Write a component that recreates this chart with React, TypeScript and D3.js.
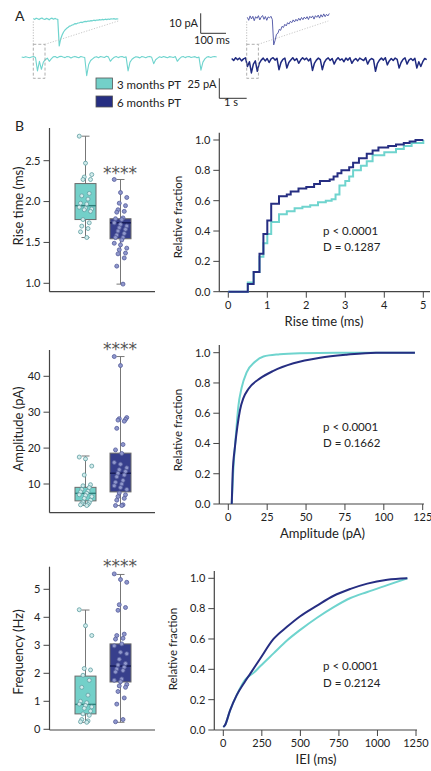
import React from 'react';
import * as d3 from 'd3';

// colours
const CYAN = '#6fd4ce';
const NAVY = '#262e82';
const FONT = "Lato, 'Noto Sans', sans-serif";

// ---- panel A traces (pA, baseline 0) ----
const traceLong3 = [0.5, -0.3, 0.8, 0, -0.6, 0.4, 1, -0.2, -17, -5, -15, -6, -3, -1, -5, -2, 0.5, 1, -0.5, 0.8,
  1.2, 0.3, -0.4, 1, 0.6, -0.8, 0.4, 1.1, 0.2, -0.6, 0.9, 0.3, -0.2, -23, -9, -4, -2, 0, 0.8, -0.5,
  1, 0.4, -0.3, 1.2, 0.5, -5, -2, 0, 0.9, -0.4, 0.6, 1, -0.2, 0.5, -17, -6, -2.5, -0.5, 0.8, 0.2,
  -0.7, 1, 0.3, -0.5, 0.7, 1.1, 0, -8, -3, -1, 0.6, -0.3, 0.9, 0.2, -0.6, 0.8, 0.3, -0.2, 1, -5,
  -2, 0.3, 0.9, -0.4, 0.6, 1, -0.3, 0.4, 0.8, -0.5, 0.2, -16, -6, -2, 0.3, 0.8, -0.2, 0.6, 1, 0.4];
const traceLong6 = [1, -1.5, 2, -0.5, 1.5, -2, 0.5, 1.8, -9, -3, -17, -6, -2, -15, -5, -1, 1.5, -2, 1, -4,
  0.5, 2, -1, 1.2, -13, -4, 0, 1.5, -11, -4, -1, 2, -1.5, 1, -5, -1, 2, -0.5, 1.5, -2,
  1, -14, -5, -1, 1.5, -0.5, -13, -4, 0, 1.8, -1.5, 1, -6, -1, 2, -1, 0.5, -3, 1.5, -1,
  2, -5, -1, 1, -2, 1.5, 0, -1.5, 2, -6, -1, 1, -0.5, -15, -5, -1, 1.5, -1, 2, -7,
  -2, 1, -1.5, 1.5, 0, -11, -4, 0, 1.8, -6, -1, 1, -1.5, 1.2, -11, -3, -9, -3, 1, -0.5];
const traceInset3 = [0.3, -0.2, 0.4, 0.1, -0.3, 0.2, 0.5, 0, -0.2, 0.3, 0.1, -0.4, 0.2, 0.4, -0.1, 0.3, 0, -0.2,
  -13.5, -10, -8, -6.5, -5.5, -4.8, -4.3, -3.6, -3.4, -3, -2.8, -2.3, -2.4, -2, -1.9, -1.6, -1.8, -1.4,
  -1.2, -1.3, -1, -1.1, -0.8, -0.9, -0.6, -0.8, -0.5, -0.6, -0.3, -0.5, -0.2, -0.4, -0.1, -0.3, 0, -0.2,
  0.1, 0, 0.2, -0.1, 0.1, 0];
const traceInset6 = [0.5, -1, 1.2, -0.3, 1, -1.2, 0.8, 0, 1.3, -0.8, 0.6, 1.4, -0.5, 0.9, -1, 0.7, 0.2, 1, -0.6,
  -13.3, -11, -8, -7.5, -5.5, -6, -4, -4.6, -3, -3.8, -2.2, -2.9, -1.5, -2.2, -0.8, -1.8, -0.5, -1.4, 0, -1,
  0.4, -0.7, 0.6, -0.3, 0.8, -0.6, 1, 0.2, 1.2, -0.4, 1.3, 0.5, 1.6, 0.1, 1.8, 0.6, 2.2, 0.8, 2, 1.2, 2.4];

// ---- panel B box plots: values and [min, q1, median, q3, max] ----
const rise3 = [2.80, 2.47, 2.33, 2.30, 2.27, 2.27, 2.10, 2.07, 2.03, 1.98, 1.97, 1.93, 1.92, 1.91, 1.90, 1.88, 1.78, 1.74, 1.70, 1.67, 1.63, 1.56];
const rise6 = [2.27, 2.11, 2.05, 1.98, 1.95, 1.90, 1.88, 1.87, 1.80, 1.79, 1.78, 1.74, 1.72, 1.70, 1.68, 1.66, 1.64, 1.61, 1.59, 1.56, 1.56, 1.53, 1.49, 1.47, 1.43, 1.41, 1.37, 1.36, 1.31, 1.21, 0.99];
const riseStats3 = [1.56, 1.78, 1.95, 2.22, 2.80];
const riseStats6 = [0.99, 1.545, 1.74, 1.79, 2.27];
const riseTicks = [1.0, 1.5, 2.0, 2.5];

const amp3 = [17.5, 17.0, 15.0, 12.5, 9.8, 9.5, 9.0, 8.5, 8.0, 7.8, 7.4, 7.0, 6.8, 6.5, 6.0, 5.5, 5.0, 4.8, 4.5, 4.3, 4.2, 4.0];
const amp6 = [45.5, 43.0, 28.5, 28.2, 28.0, 27.8, 27.5, 25.5, 21.0, 19.5, 18.5, 16.0, 15.5, 14.5, 14.0, 13.5, 13.0, 12.5, 12.0, 11.0, 10.5, 10.0, 9.5, 9.0, 8.5, 7.5, 7.0, 6.5, 6.0, 5.5, 4.2, 4.0, 4.0];
const ampStats3 = [4.0, 5.3, 7.4, 9.07, 17.8];
const ampStats6 = [4.0, 7.8, 13.0, 18.6, 45.5];
const ampTicks = [10, 20, 30, 40];

const freq3 = [4.27, 3.70, 3.35, 2.17, 2.12, 1.93, 1.75, 1.50, 1.22, 1.0, 0.95, 0.90, 0.85, 0.80, 0.75, 0.65, 0.55, 0.50, 0.35, 0.30, 0.27, 0.25];
const freq6 = [5.55, 5.35, 5.25, 4.45, 4.35, 4.25, 3.40, 3.35, 3.25, 3.22, 3.05, 2.98, 2.75, 2.70, 2.50, 2.35, 2.30, 2.22, 2.15, 2.10, 2.05, 1.80, 1.75, 1.70, 1.60, 1.55, 1.50, 1.35, 1.12, 0.90, 0.35, 0.27];
const freqStats3 = [0.25, 0.55, 0.89, 1.90, 4.26];
const freqStats6 = [0.25, 1.69, 2.26, 3.05, 5.53];
const freqTicks = [0, 1, 2, 3, 4, 5];

// ---- cumulative distributions ----
const riseCdfX3 = [0, 0.5, 0.65, 0.8, 0.9, 1.0, 1.1, 1.3, 1.5, 1.7, 1.9, 2.1, 2.3, 2.5, 2.65, 2.75, 2.85, 3.0, 3.1, 3.2, 3.4, 3.55, 3.7, 4.0, 4.3, 4.5, 4.7, 5.0];
const riseCdfY3 = [0, 0.06, 0.13, 0.23, 0.32, 0.38, 0.46, 0.51, 0.53, 0.55, 0.56, 0.57, 0.59, 0.60, 0.61, 0.64, 0.70, 0.73, 0.76, 0.80, 0.83, 0.86, 0.90, 0.92, 0.94, 0.96, 0.98, 1.0];
const riseCdfX6 = [0, 0.5, 0.65, 0.8, 0.9, 1.0, 1.1, 1.3, 1.5, 1.6, 1.8, 2.0, 2.2, 2.35, 2.6, 2.7, 2.8, 2.9, 3.1, 3.2, 3.35, 3.55, 3.7, 3.85, 4.1, 4.3, 4.5, 4.65, 4.8, 5.0];
const riseCdfY6 = [0, 0.05, 0.13, 0.25, 0.38, 0.47, 0.58, 0.63, 0.64, 0.66, 0.68, 0.69, 0.71, 0.73, 0.74, 0.76, 0.78, 0.80, 0.82, 0.85, 0.88, 0.91, 0.93, 0.95, 0.96, 0.97, 0.98, 0.99, 1.0, 1.0];
const riseXTicks = [0, 1, 2, 3, 4, 5];

const ampCdfX3 = [2.2, 3.2, 5.0, 6.4, 8.6, 11.8, 17.2, 22.6, 33, 46, 70, 120];
const ampCdfY3 = [0, 0.22, 0.47, 0.64, 0.77, 0.87, 0.94, 0.975, 0.99, 0.997, 1.0, 1.0];
const ampCdfX6 = [2.2, 2.8, 4.3, 5.8, 7.5, 9.7, 12.9, 20.4, 29, 41.9, 59, 76, 95, 120];
const ampCdfY6 = [0, 0.2, 0.38, 0.51, 0.62, 0.70, 0.76, 0.83, 0.88, 0.93, 0.967, 0.987, 1.0, 1.0];
const ampXTicks = [0, 25, 50, 75, 100, 125];

const ieiCdfX3 = [0, 10, 44, 87, 141, 200, 239, 326, 413, 499, 608, 716, 825, 934, 1064, 1194];
const ieiCdfY3 = [0.02, 0.03, 0.13, 0.23, 0.33, 0.38, 0.42, 0.505, 0.59, 0.66, 0.74, 0.81, 0.87, 0.91, 0.955, 1.0];
const ieiCdfX6 = [0, 10, 44, 87, 141, 174, 239, 326, 413, 499, 608, 716, 825, 934, 1064, 1194];
const ieiCdfY6 = [0.02, 0.03, 0.13, 0.23, 0.32, 0.37, 0.47, 0.60, 0.68, 0.75, 0.82, 0.885, 0.93, 0.965, 0.99, 1.0];
const ieiXTicks = [0, 250, 500, 750, 1000, 1250];

const fracTicks = [0, 0.2, 0.4, 0.6, 0.8, 1.0];

const AXIS = '#444';

function Trace({ vals, x0, x1, base, k, color, width }) {
  const x = d3.scaleLinear().domain([0, vals.length - 1]).range([x0, x1]);
  const y = d3.scaleLinear().domain([0, -10]).range([base, base + 10 * k]);
  const line = d3.line<number>().x((_, i) => x(i)).y((d) => y(d));
  return <path d={line(vals) || ''} fill="none" stroke={color} strokeWidth={width} strokeLinejoin="round" />;
}

function Box({ cx, y, stats, vals, fill, median, ptFill, ptStroke }) {
  const w = 21;
  const [lo, q1, md, q3, hi] = stats;
  return (
    <g>
      <line x1={cx} x2={cx} y1={y(hi)} y2={y(lo)} stroke="#777" strokeWidth={1} />
      <line x1={cx - 4} x2={cx + 4} y1={y(hi)} y2={y(hi)} stroke="#777" strokeWidth={1} />
      <line x1={cx - 4} x2={cx + 4} y1={y(lo)} y2={y(lo)} stroke="#777" strokeWidth={1} />
      <rect x={cx - w / 2} y={y(q3)} width={w} height={y(q1) - y(q3)} fill={fill} stroke="#6b6b6b" strokeWidth={1} />
      <line x1={cx - w / 2} x2={cx + w / 2} y1={y(md)} y2={y(md)} stroke={median} strokeWidth={1.4} />
      {vals.map((v, i) => {
        const jit = (((i * 5) % 11) - 5) * 1.25;
        return <circle key={i} cx={cx + jit} cy={y(v)} r={2} fill={ptFill} stroke={ptStroke} strokeWidth={0.8} />;
      })}
    </g>
  );
}

function BoxPanel({ domain, range, axisTop, axisBottom, ticks, fmt, label, labelY, starsY, v3, v6, s3, s6 }) {
  const y = d3.scaleLinear().domain(domain).range(range);
  const x = d3.scalePoint().domain(['3', '6']).range([85.5, 120.5]);
  const ax = 49.5;
  return (
    <g>
      <line x1={ax} x2={ax} y1={axisTop} y2={axisBottom} stroke={AXIS} strokeWidth={1.2} />
      <line x1={ax} x2={155} y1={axisBottom} y2={axisBottom} stroke={AXIS} strokeWidth={1.2} />
      {ticks.map((t) => (
        <g key={t}>
          <line x1={ax - 6} x2={ax} y1={y(t)} y2={y(t)} stroke={AXIS} strokeWidth={1} />
          <text x={ax - 9} y={y(t)} dy="0.35em" textAnchor="end" fontSize={11} fill="#222">{fmt(t)}</text>
        </g>
      ))}
      <text transform={`translate(23,${labelY}) rotate(-90)`} textAnchor="middle" fontSize={13} fill="#222">{label}</text>
      <Box cx={x('3')} y={y} stats={s3} vals={v3} fill="#73d0c9" median="#2f7d78" ptFill="#d3ecec" ptStroke="#5f9ea2" />
      <Box cx={x('6')} y={y} stats={s6} vals={v6} fill="#373f8c" median="#161b55" ptFill="#8f97cc" ptStroke="#555d9a" />
      <text x={120} y={starsY} textAnchor="middle" fontSize={17} fill="#555" fontFamily="'DejaVu Sans', sans-serif">****</text>
    </g>
  );
}

function CdfPanel({ ax, ay, axisTop, axisRight, xDomain, xRange, yRange, xTicks, s3, s6, step, xLabel, xLabelX, fracY, d, stats }) {
  const x = d3.scaleLinear().domain(xDomain).range(xRange);
  const y = d3.scaleLinear().domain([0, 1]).range(yRange);
  const line = d3.line<[number, number]>().x((p) => x(p[0])).y((p) => y(p[1]))
    .curve(step ? d3.curveStepAfter : d3.curveMonotoneX);
  return (
    <g>
      <line x1={ax} x2={ax} y1={axisTop} y2={ay} stroke={AXIS} strokeWidth={1.2} />
      <line x1={ax} x2={axisRight} y1={ay} y2={ay} stroke={AXIS} strokeWidth={1.2} />
      {fracTicks.map((t) => (
        <g key={t}>
          <line x1={ax - 6} x2={ax} y1={y(t)} y2={y(t)} stroke={AXIS} strokeWidth={1} />
          <text x={ax - 9} y={y(t)} dy="0.35em" textAnchor="end" fontSize={11} fill="#222">{d3.format('.1f')(t)}</text>
        </g>
      ))}
      {xTicks.map((t) => (
        <g key={t}>
          <line x1={x(t)} x2={x(t)} y1={ay} y2={ay + 6} stroke={AXIS} strokeWidth={1} />
          <text x={x(t)} y={ay + 17} textAnchor="middle" fontSize={11} fill="#222">{t}</text>
        </g>
      ))}
      <text x={xLabelX} y={ay + 34} textAnchor="middle" fontSize={13} fill="#222">{xLabel}</text>
      <text transform={`translate(${ax - 37},${fracY}) rotate(-90)`} textAnchor="middle" fontSize={11.5} fill="#222">Relative fraction</text>
      <path d={line(d3.zip(s3[0], s3[1]) as [number, number][]) || ''} fill="none" stroke={CYAN} strokeWidth={2} />
      <path d={line(d3.zip(s6[0], s6[1]) as [number, number][]) || ''} fill="none" stroke={NAVY} strokeWidth={2} />
      <text x={323} y={stats[0]} fontSize={11.5} fill="#222">p &lt; 0.0001</text>
      <text x={323} y={stats[1]} fontSize={11.5} fill="#222">{d}</text>
    </g>
  );
}

export default function App() {
  return (
    <svg width={431} height={771} style={{ position: 'absolute', left: 0, top: 0, background: '#fff' }} fontFamily={FONT}>
      {/* panel A */}
      <text x={15} y={21} fontSize={14} fill="#222">A</text>
      <Trace vals={traceInset3} x0={33.3} x1={118.3} base={19} k={2} color={CYAN} width={1.2} />
      <Trace vals={traceInset6} x0={247.3} x1={329.3} base={18.3} k={2} color="#4a50a3" width={0.9} />
      <Trace vals={traceLong3} x0={21.7} x1={216.7} base={57.3} k={0.8} color={CYAN} width={1.1} />
      <Trace vals={traceLong6} x0={231.7} x1={426.7} base={59.3} k={0.8} color="#1f2a80" width={1.5} />
      {/* zoom boxes and guides */}
      <rect x={33.3} y={44.3} width={11.7} height={34} fill="none" stroke="#999" strokeWidth={0.8} strokeDasharray="3 2" />
      <rect x={246.7} y={44.3} width={11.7} height={34} fill="none" stroke="#999" strokeWidth={0.8} strokeDasharray="3 2" />
      <line x1={33.3} y1={44.3} x2={33.3} y2={21} stroke="#aaa" strokeWidth={0.8} strokeDasharray="1.2 1.5" />
      <line x1={45} y1={44.3} x2={118.3} y2={21} stroke="#bbb" strokeWidth={0.8} strokeDasharray="1.2 1.5" />
      <line x1={246.7} y1={44.3} x2={246.7} y2={21} stroke="#aaa" strokeWidth={0.8} strokeDasharray="1.2 1.5" />
      <line x1={258.3} y1={44.3} x2={328.3} y2={21} stroke="#bbb" strokeWidth={0.8} strokeDasharray="1.2 1.5" />
      {/* scale bars */}
      <path d="M200.7,13.3 V33.3 H226" fill="none" stroke="#333" strokeWidth={1} />
      <text x={198} y={27} textAnchor="end" fontSize={11} fill="#222">10 pA</text>
      <text x={212} y={43.5} textAnchor="middle" fontSize={11} fill="#222">100 ms</text>
      <path d="M219.3,78.3 V98.3 H246.7" fill="none" stroke="#333" strokeWidth={1} />
      <text x={216.5} y={87.5} textAnchor="end" fontSize={11} fill="#222">25 pA</text>
      <text x={231} y={105.5} textAnchor="middle" fontSize={11} fill="#222">1 s</text>
      {/* legend */}
      <rect x={96} y={78} width={16.5} height={11} fill="#73d0c9" stroke="#555" strokeWidth={0.8} />
      <rect x={96} y={96} width={16.5} height={11} fill={NAVY} stroke="#555" strokeWidth={0.8} />
      <text x={117} y={88.5} fontSize={11.5} fill="#222">3 months PT</text>
      <text x={117} y={106.5} fontSize={11.5} fill="#222">6 months PT</text>

      {/* panel B */}
      <text x={15} y={131} fontSize={14} fill="#222">B</text>
      <BoxPanel domain={[1, 2.5]} range={[283.3, 160.7]} axisTop={128} axisBottom={291.7} ticks={riseTicks}
        fmt={d3.format('.1f')} label="Rise time (ms)" labelY={206} starsY={178.5} v3={rise3} v6={rise6} s3={riseStats3} s6={riseStats6} />
      <BoxPanel domain={[10, 40]} range={[484, 376.3]} axisTop={350} axisBottom={512.7} ticks={ampTicks}
        fmt={d3.format('d')} label="Amplitude (pA)" labelY={429} starsY={355} v3={amp3} v6={amp6} s3={ampStats3} s6={ampStats6} />
      <BoxPanel domain={[0, 5]} range={[729.3, 589.3]} axisTop={566.7} axisBottom={730} ticks={freqTicks}
        fmt={d3.format('d')} label="Frequency (Hz)" labelY={652} starsY={572} v3={freq3} v6={freq6} s3={freqStats3} s6={freqStats6} />

      <CdfPanel ax={219.3} ay={291.7} axisTop={132.7} axisRight={430} xDomain={[0, 5]} xRange={[228.3, 423.3]}
        yRange={[291.7, 140]} xTicks={riseXTicks} s3={[riseCdfX3, riseCdfY3]} s6={[riseCdfX6, riseCdfY6]} step
        xLabel="Rise time (ms)" xLabelX={324} fracY={217} d="D = 0.1287" stats={[235, 251]} />
      <CdfPanel ax={219.3} ay={504} axisTop={345} axisRight={424} xDomain={[0, 125]} xRange={[228.3, 422.7]}
        yRange={[504, 352.7]} xTicks={ampXTicks} s3={[ampCdfX3, ampCdfY3]} s6={[ampCdfX6, ampCdfY6]} step={false}
        xLabel="Amplitude (pA)" xLabelX={322.5} fracY={430} d="D = 0.1662" stats={[430.5, 446.5]} />
      <CdfPanel ax={214.3} ay={730} axisTop={571} axisRight={417} xDomain={[0, 1250]} xRange={[223.3, 416]}
        yRange={[730, 578.3]} xTicks={ieiXTicks} s3={[ieiCdfX3, ieiCdfY3]} s6={[ieiCdfX6, ieiCdfY6]} step={false}
        xLabel="IEI (ms)" xLabelX={316} fracY={649} d="D = 0.2124" stats={[669.5, 686.5]} />
    </svg>
  );
}
